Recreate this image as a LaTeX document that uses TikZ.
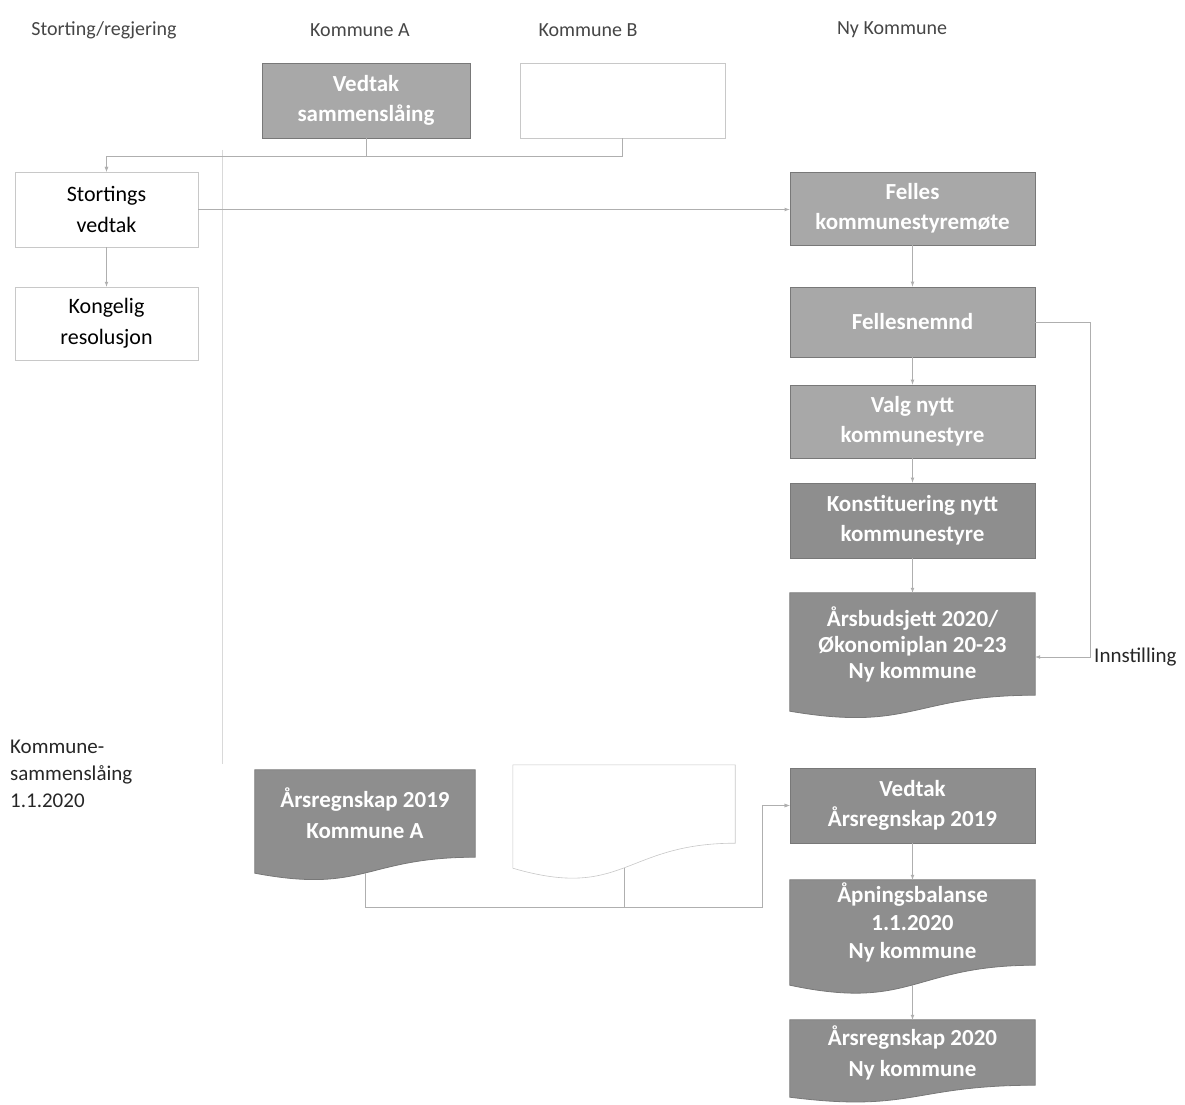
\documentclass[tikz,border=0pt]{standalone}
\usepackage{fontspec}
\setmainfont{Carlito}
\usepackage{tikz}
\usetikzlibrary{arrows,calc,backgrounds}

% wavy bottom of a document box: node, drop of the left corner, style
\newcommand{\docshape}[3]{%
\begin{pgfonlayer}{background}
\path[#3] (#1.north west) -- (#1.north east) -- (#1.south east)
	.. controls (#1.south) and ($(#1.south)+(0,-2.3*#2)$) .. ($(#1.south west)+(0,-#2)$) -- cycle;
\end{pgfonlayer}}

\begin{document}
\begin{tikzpicture}[x=1pt,y=1pt,
  head/.style={font=\fontsize{20}{24}\selectfont,text=headColor,inner sep=0pt},
  box/.style={rectangle,draw=lineColor,line width=0.8pt,fill=boxColor,text=white,
    font=\fontsize{23}{30}\selectfont\bfseries,align=center,inner sep=0pt},
  darkbox/.style={box,fill=darkColor},
  plain/.style={rectangle,draw=laneColor,line width=0.6pt,fill=white,text=black,
    font=\fontsize{22}{31}\selectfont,align=center,inner sep=0pt},
  doctext/.style={text=white,font=\fontsize{23}{31}\selectfont\bfseries,align=center,inner sep=0pt},
  docfill/.style={draw=lineColor,line width=0.8pt,fill=darkColor},
  docplain/.style={draw=laneColor,line width=0.6pt,fill=white},
  conn/.style={draw=connColor,line width=0.7pt,-latex},
  lane/.style={draw=laneColor!70,line width=0.5pt}]
\definecolor{headColor}{RGB}{70,70,70}
\definecolor{boxColor}{RGB}{168,168,168}
\definecolor{darkColor}{RGB}{142,142,142}
\definecolor{lineColor}{RGB}{120,120,120}
\definecolor{laneColor}{RGB}{200,200,200}
\definecolor{connColor}{RGB}{175,175,175}
\path[use as bounding box] (0,0) rectangle (1185,1104);

% lane headings
\node[head] (hStorting) at (104,1074) {Storting/regjering};
\node[head] (hKommA) at (360,1074) {Kommune A};
\node[head] (hKommB) at (588,1074) {Kommune B};
\node[head] (hNy) at (892,1074) {Ny Kommune};

% Storting/regjering
\node[plain,minimum width=183,minimum height=75] (storting) at (106.5,894.5) {Stortings\\vedtak};
\node[plain,minimum width=183,minimum height=73] (kongelig) at (106.5,780.5) {Kongelig\\resolusjon};
\node[anchor=north west,align=left,inner sep=0pt,text=black!85,
  font=\fontsize{21}{27}\selectfont] (sammen) at (10,364) {Kommune-\\sammenslåing\\1.1.2020};

% Kommune A and B
\node[box,minimum width=208,minimum height=75] (vedA) at (366,1003.5) {Vedtak\\sammenslåing};
\node[plain,minimum width=205,minimum height=75] (vedB) at (622.5,1003.5) {};
\node[doctext,minimum width=220,minimum height=87] (regnA) at (365,290.5) {Årsregnskap 2019\\Kommune A};
\docshape{regnA}{16}{docfill}
\node[minimum width=222,minimum height=78,inner sep=0pt] (regnB) at (624,300) {};
\docshape{regnB}{25}{docplain}

% Ny kommune
\node[box,minimum width=245,minimum height=73] (felles) at (912.5,895.5) {Felles\\kommunestyremøte};
\node[box,minimum width=245,minimum height=70] (nemnd) at (912.5,782) {Fellesnemnd};
\node[box,minimum width=245,minimum height=73] (valg) at (912.5,682.5) {Valg nytt\\kommunestyre};
\node[darkbox,minimum width=245,minimum height=75] (konst) at (912.5,583.5) {Konstituering nytt\\kommunestyre};
\node[doctext,minimum width=245,minimum height=102,
  font=\fontsize{23}{26}\selectfont\bfseries] (budsjett) at (912.5,460) {Årsbudsjett 2020/\\Økonomiplan 20-23\\Ny kommune};
\docshape{budsjett}{16}{docfill}
\node[darkbox,minimum width=245,minimum height=75] (vedtakR) at (912.5,298.5) {Vedtak\\Årsregnskap 2019};
\node[doctext,minimum width=245,minimum height=85,
  font=\fontsize{23}{28}\selectfont\bfseries] (apning) at (912.5,181.5) {Åpningsbalanse\\1.1.2020\\Ny kommune};
\docshape{apning}{20}{docfill}
\node[doctext,minimum width=245,minimum height=65] (regn2020) at (912.5,51.5) {Årsregnskap 2020\\Ny kommune};
\docshape{regn2020}{12}{docfill}
\node[anchor=west,inner sep=0pt,text=black!85,font=\fontsize{21}{26}\selectfont] (innst) at (1094,447) {Innstilling};

% lane line
\coordinate (laneTop) at (222,954);
\coordinate (laneBot) at (222,340);
\draw[lane] (laneTop) -- (laneBot);

% connectors
\draw[conn] (vedA.south) -- ++(0,-18) -| (storting.north);
\draw[conn] (vedB.south) -- ++(0,-18) -| (storting.north);
\draw[conn] (storting.east) -- (storting.east -| felles.west);
\draw[conn] (storting.south) -- (kongelig.north);
\draw[conn] (felles.south) -- (nemnd.north);
\draw[conn] (nemnd.south) -- (valg.north);
\draw[conn] (valg.south) -- (konst.north);
\draw[conn] (konst.south) -- (budsjett.north);
\draw[conn] (nemnd.east) -- ++(55,0) |- ([yshift=-13pt]budsjett.east);

\coordinate (jBot) at (762,197);
\draw[conn] ([yshift=-16pt]regnA.south) |- (jBot) |- (vedtakR.west);
\draw[conn] ([yshift=-25pt]regnB.south) |- (jBot) |- (vedtakR.west);
\draw[conn] (vedtakR.south) -- (apning.north);
\draw[conn] ([yshift=-20pt]apning.south) -- (regn2020.north);
\end{tikzpicture}
\end{document}
